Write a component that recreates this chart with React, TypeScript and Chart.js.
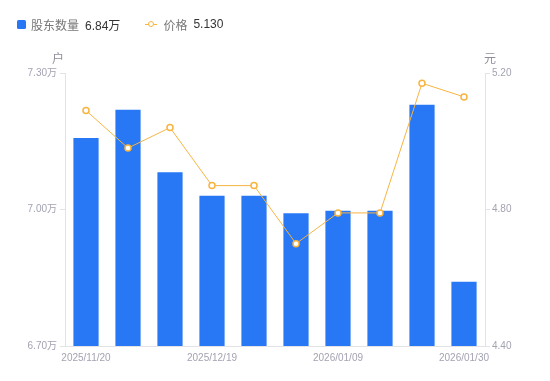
import React, { useEffect, useRef } from "react";
import { Chart, registerables } from "chart.js";

Chart.register(...registerables);

const categories = [
  "2025/11/20", "2025/11/28", "2025/12/10", "2025/12/19", "2025/12/26",
  "2026/01/02", "2026/01/09", "2026/01/16", "2026/01/23", "2026/01/30",
];
const holders = [7.157, 7.219, 7.082, 7.03, 7.03, 6.992, 6.997, 6.997, 7.23, 6.841];
const prices = [5.09, 4.98, 5.04, 4.87, 4.87, 4.70, 4.79, 4.79, 5.17, 5.13];
const shownLabelIdx = [0, 3, 6, 9];

const FONT = '"Liberation Sans", "Noto Sans CJK SC", sans-serif';
const BLUE = "#2878f5";
const ORANGE = "#f8b441";
const TICK = "#a3a3b2";
const AXIS = "#e3e3e6";

const titlePlugin = {
  id: "axisTitles",
  afterDraw(chart: any) {
    const ctx = chart.ctx;
    const y = chart.scales.y;
    const y1 = chart.scales.y1;
    ctx.save();
    ctx.font = `12px ${FONT}`;
    ctx.fillStyle = "#8e8e9a";
    ctx.textAlign = "center";
    ctx.textBaseline = "middle";
    ctx.fillText("户", y.right - 7, y.top - 13);
    ctx.fillText("元", y1.left + 5, y1.top - 13);
    ctx.restore();
  },
};

export default function App() {
  const ref = useRef<HTMLCanvasElement | null>(null);
  useEffect(() => {
    if (!ref.current) return;
    const chart = new Chart(ref.current, {
      type: "bar",
      data: {
        labels: categories,
        datasets: [
          {
            type: "line",
            label: "价格",
            data: prices,
            yAxisID: "y1",
            borderColor: ORANGE,
            borderWidth: 1,
            pointRadius: 3,
            pointBorderWidth: 1.5,
            pointBackgroundColor: "#ffffff",
            pointBorderColor: ORANGE,
            tension: 0,
            order: 0,
          } as any,
          {
            type: "bar",
            label: "股东数量",
            data: holders,
            yAxisID: "y",
            backgroundColor: BLUE,
            categoryPercentage: 1,
            barPercentage: 0.6,
            order: 1,
          },
        ],
      },
      options: {
        animation: false,
        responsive: false,
        maintainAspectRatio: false,
        layout: { padding: { top: 73, left: 0, right: 0, bottom: 0 } },
        plugins: { legend: { display: false }, tooltip: { enabled: false } },
        scales: {
          x: {
            offset: true,
            grid: { display: false, drawTicks: false },
            border: { color: AXIS },
            ticks: {
              autoSkip: false,
              maxRotation: 0,
              padding: 6,
              color: TICK,
              font: { size: 10, family: FONT },
              callback: (_v: any, i: number) => (shownLabelIdx.includes(i) ? categories[i] : ""),
            },
            afterFit: (s: any) => { s.height = 35; },
          },
          y: {
            position: "left",
            min: 6.7,
            max: 7.3,
            grid: { drawOnChartArea: false, tickLength: 5, color: AXIS },
            border: { color: AXIS },
            ticks: {
              stepSize: 0.3,
              padding: 3,
              color: TICK,
              font: { size: 10, family: FONT },
              callback: (v: any) => Number(v).toFixed(2) + "万",
            },
            afterFit: (s: any) => { s.width = 65; },
          },
          y1: {
            position: "right",
            min: 4.4,
            max: 5.2,
            grid: { drawOnChartArea: false, tickLength: 5, color: AXIS },
            border: { color: AXIS },
            ticks: {
              stepSize: 0.4,
              padding: 2,
              color: TICK,
              font: { size: 10, family: FONT },
              callback: (v: any) => Number(v).toFixed(2),
            },
            afterFit: (s: any) => { s.width = 65; },
          },
        },
      },
      plugins: [titlePlugin],
    });
    return () => chart.destroy();
  }, []);

  return (
    <div style={{ position: "fixed", left: 0, top: 0, width: 550, height: 381, background: "#fff", fontFamily: FONT }}>
      <canvas ref={ref} width={550} height={381} style={{ display: "block" }} />
      <div style={{ position: "absolute", left: 17, top: 15, height: 18, display: "flex", alignItems: "center", fontSize: 12, whiteSpace: "nowrap" }}>
        <span style={{ display: "inline-block", width: 9, height: 9, background: BLUE, borderRadius: 1.5, marginRight: 5 }} />
        <span style={{ color: "#777" }}>股东数量</span>
        <span style={{ color: "#333", marginLeft: 6 }}>6.84万</span>
        <span style={{ position: "relative", display: "inline-block", width: 12, height: 10, marginLeft: 25, marginRight: 6 }}>
          <span style={{ position: "absolute", left: 0, top: 4.5, width: 12, height: 1, background: ORANGE }} />
          <span style={{ position: "absolute", left: 2.5, top: 1.5, width: 4, height: 4, borderRadius: "50%", border: `1.5px solid ${ORANGE}`, background: "#fff" }} />
        </span>
        <span style={{ color: "#777" }}>价格</span>
        <span style={{ color: "#333", marginLeft: 6 }}>5.130</span>
      </div>
    </div>
  );
}
